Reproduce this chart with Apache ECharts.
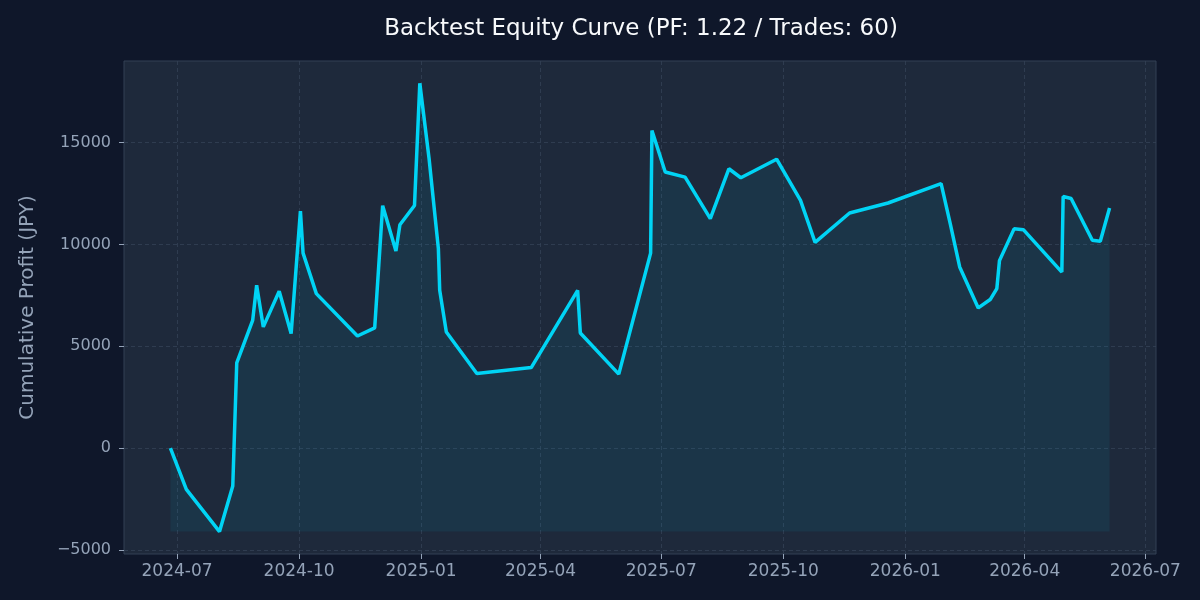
<!DOCTYPE html>
<html>
<head>
<meta charset="utf-8">
<script src="https://cdn.jsdelivr.net/npm/echarts@6/dist/echarts.min.js"></script>
<style>
  html, body { margin: 0; padding: 0; background: #0f172a; }
  #chart { width: 1200px; height: 600px; }
</style>
</head>
<body>
<div id="chart"></div>
<script>
// trade close dates and cumulative profit (JPY)
const tradeDates = [
    '2024-06-26', '2024-07-08', '2024-08-02', '2024-08-12', '2024-08-15', '2024-08-27',
    '2024-08-30', '2024-09-04', '2024-09-16', '2024-09-25', '2024-10-02', '2024-10-04',
    '2024-10-14', '2024-11-14', '2024-11-27', '2024-12-03', '2024-12-13', '2024-12-16',
    '2024-12-27', '2024-12-31', '2025-01-07', '2025-01-14', '2025-01-15', '2025-01-20',
    '2025-02-12', '2025-03-25', '2025-04-29', '2025-05-01', '2025-05-30', '2025-06-23',
    '2025-06-24', '2025-07-04', '2025-07-19', '2025-08-07', '2025-08-21', '2025-08-30',
    '2025-09-26', '2025-10-14', '2025-10-25', '2025-11-20', '2025-12-19', '2026-01-28',
    '2026-02-04', '2026-02-11', '2026-02-25', '2026-03-06', '2026-03-11', '2026-03-13',
    '2026-03-24', '2026-03-31', '2026-04-29', '2026-04-30', '2026-05-06', '2026-05-22',
    '2026-05-28', '2026-06-04'
];
const equity = [
    0, -2025, -4100, -1860, 4180, 6270,
    7990, 5950, 7700, 5620, 11630, 9570,
    7580, 5500, 5900, 11900, 9670, 10960,
    11910, 17910, 14200, 9790, 7745, 5700,
    3660, 3950, 7745, 5650, 3630, 9570,
    15590, 13550, 13300, 11260, 13710, 13270,
    14180, 12160, 10100, 11540, 12030, 12980,
    10980, 8890, 6880, 7290, 7830, 9200,
    10760, 10720, 8640, 12350, 12250, 10200,
    10150, 11780
];
const xTickDates = ['2024-07-01', '2024-10-01', '2025-01-01', '2025-04-01', '2025-07-01',
    '2025-10-01', '2026-01-01', '2026-04-01', '2026-07-01'];
const yTicks = [-5000, 0, 5000, 10000, 15000];

const toTime = (s) => {
    const p = s.split('-').map(Number);
    return new Date(p[0], p[1] - 1, p[2]).getTime();
};
const pad = (n) => (n < 10 ? '0' : '') + n;

const seriesData = tradeDates.map((d, i) => [toTime(d), equity[i]]);
const baseline = Math.min.apply(null, equity);
const xTicks = xTickDates.map(toTime);

const chart = echarts.init(document.getElementById('chart'));
chart.setOption({
    backgroundColor: '#0f172a',
    textStyle: {fontFamily: 'DejaVu Sans'},
    title: {
        text: 'Backtest Equity Curve (PF: 1.22 / Trades: 60)',
        left: 636,
        textAlign: 'center',
        top: 13,
        textStyle: {color: '#f8fafc', fontSize: 23, fontWeight: 'normal', fontFamily: 'DejaVu Sans'}
    },
    grid: {
        left: 124, right: 44, top: 61, bottom: 46,
        show: true,
        backgroundColor: '#1e293b',
        borderColor: '#334155',
        borderWidth: 1
    },
    xAxis: {
        type: 'value',
        min: toTime('2024-05-22'),
        max: toTime('2026-07-09'),
        axisLine: {show: false, onZero: false},
        axisTick: {
            show: true, length: 5, lineStyle: {color: '#94a3b8'},
            customValues: xTicks
        },
        axisLabel: {
            color: '#94a3b8', fontSize: 17, margin: 9,
            customValues: xTicks,
            formatter: (v) => {
                const d = new Date(v);
                return d.getFullYear() + '-' + pad(d.getMonth() + 1);
            }
        },
        splitLine: {show: true, lineStyle: {color: '#334155', type: [4, 3], width: 0.8}}
    },
    yAxis: {
        type: 'value',
        min: -5200,
        max: 19000,
        name: 'Cumulative Profit (JPY)',
        nameLocation: 'middle',
        nameRotate: 90,
        nameGap: 86,
        nameTextStyle: {color: '#94a3b8', fontSize: 20},
        axisLine: {show: false, onZero: false},
        axisTick: {show: true, length: 5, lineStyle: {color: '#94a3b8'}, customValues: yTicks},
        axisLabel: {
            color: '#94a3b8', fontSize: 16, margin: 13,
            customValues: yTicks,
            formatter: (v) => (v < 0 ? '\u2212' + Math.abs(v) : String(v))
        },
        splitLine: {show: true, lineStyle: {color: '#334155', type: [4, 3], width: 0.8}}
    },
    series: [{
        type: 'line',
        data: seriesData,
        showSymbol: false,
        symbol: 'none',
        lineStyle: {color: '#00d4f5', width: 3.5},
        itemStyle: {color: '#00d4f5'},
        areaStyle: {color: 'rgba(0, 212, 255, 0.1)', origin: baseline},
        z: 3
    }],
    animation: false
});
</script>
</body>
</html>
